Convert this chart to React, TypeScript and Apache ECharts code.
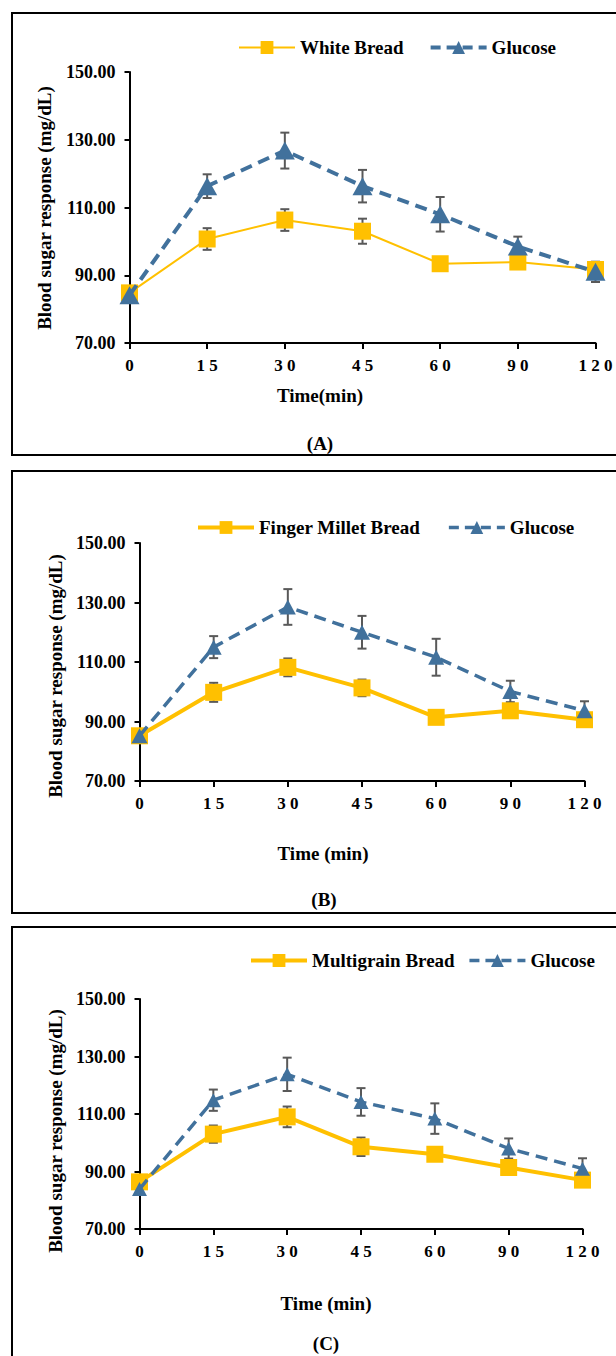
import React, { useEffect, useRef } from 'react';
import * as echarts from 'echarts';

// ---- data ----
const times = ['0', '15', '30', '45', '60', '90', '120'];

const whiteBread = [84.8, 100.7, 106.3, 103.0, 93.4, 93.9, 91.7];
const whiteBreadErr = [1.0, 3.2, 3.2, 3.7, 1.0, 1.0, 1.2];
const glucoseA = [84.1, 116.3, 126.8, 116.3, 108.0, 98.5, 91.0];
const glucoseAErr = [1.0, 3.5, 5.3, 4.8, 5.1, 2.9, 3.0];

const fingerMillet = [85.2, 99.8, 108.2, 101.3, 91.4, 93.6, 90.6];
const fingerMilletErr = [1.0, 3.2, 3.0, 2.8, 1.2, 1.2, 1.0];
const glucoseB = [85.2, 115.0, 128.5, 120.0, 111.6, 100.1, 93.6];
const glucoseBErr = [1.0, 3.7, 6.0, 5.5, 6.2, 3.6, 3.2];

const multigrain = [86.4, 103.0, 109.0, 98.6, 96.0, 91.4, 87.0];
const multigrainErr = [1.0, 3.0, 3.6, 3.2, 1.0, 1.0, 1.0];
const glucoseC = [83.9, 114.8, 123.8, 114.2, 108.4, 98.0, 91.0];
const glucoseCErr = [1.0, 3.7, 5.8, 4.8, 5.3, 3.5, 3.6];

const breadNames = ['White Bread', 'Finger Millet Bread', 'Multigrain Bread'];
const glucoseName = 'Glucose';
const yTitle = 'Blood sugar response (mg/dL)';
const xTitles = ['Time(min)', 'Time (min)', 'Time (min)'];
const panelLabels = ['(A)', '(B)', '(C)'];
const yMin = 70;
const yMax = 150;
const yStep = 20;

// ---- styles / layout ----
const FONT = "'Liberation Serif', 'Times New Roman', serif";
const YELLOW = '#FFC000';
const BLUE = '#41719C';
const ERR = '#595959';

const panels = [
  {
    bread: whiteBread, breadErr: whiteBreadErr, glu: glucoseA, gluErr: glucoseAErr,
    grid: { left: 129.5, top: 72, width: 466, height: 271 },
    legend: { left: 233, top: 33, itemGap: 25 },
    breadLineWidth: 2, gluLineWidth: 4, square: 17, tri: [20, 18],
    frame: { y: 13, h: 442 },
    yTitle: { x: 44, y: 208 }, xTitle: { x: 320, y: 395 }, label: { x: 320, y: 443 },
  },
  {
    bread: fingerMillet, breadErr: fingerMilletErr, glu: glucoseB, gluErr: glucoseBErr,
    grid: { left: 139.5, top: 543, width: 445, height: 238 },
    legend: { left: 191, top: 513, itemGap: 27 },
    breadLineWidth: 4, gluLineWidth: 3.5, square: 17, tri: [16, 15],
    frame: { y: 471, h: 442 },
    yTitle: { x: 55, y: 676 }, xTitle: { x: 323, y: 853 }, label: { x: 324, y: 899 },
  },
  {
    bread: multigrain, breadErr: multigrainErr, glu: glucoseC, gluErr: glucoseCErr,
    grid: { left: 139.5, top: 999, width: 443, height: 230 },
    legend: { left: 244, top: 946, itemGap: 13 },
    breadLineWidth: 4, gluLineWidth: 3.5, square: 17, tri: [15, 14],
    frame: { y: 927, h: 500 },
    yTitle: { x: 55, y: 1131 }, xTitle: { x: 326, y: 1303 }, label: { x: 326, y: 1343 },
  },
];

const errRender = (params: any, api: any) => {
  const x = api.value(0);
  const lo = api.coord([x, api.value(1)]);
  const hi = api.coord([x, api.value(2)]);
  const w = 4.5;
  const style = { stroke: ERR, lineWidth: 2 };
  return {
    type: 'group',
    children: [
      { type: 'line', shape: { x1: lo[0], y1: lo[1], x2: hi[0], y2: hi[1] }, style },
      { type: 'line', shape: { x1: lo[0] - w, y1: lo[1], x2: lo[0] + w, y2: lo[1] }, style },
      { type: 'line', shape: { x1: hi[0] - w, y1: hi[1], x2: hi[0] + w, y2: hi[1] }, style },
    ],
  };
};

function buildOption() {
  const grid: any[] = [];
  const xAxis: any[] = [];
  const yAxis: any[] = [];
  const legend: any[] = [];
  const series: any[] = [];
  const graphic: any[] = [];
  const titleStyle = { fontFamily: FONT, fontWeight: 'bold', fontSize: 19, fill: '#000' };

  panels.forEach((p, i) => {
    grid.push({ ...p.grid, containLabel: false });
    xAxis.push({
      type: 'category', gridIndex: i, data: times, boundaryGap: false,
      axisLine: { lineStyle: { color: '#000', width: 2 } },
      axisTick: { show: true, length: 6, lineStyle: { color: '#000', width: 2 } },
      axisLabel: {
        margin: 14, color: '#000', fontFamily: FONT, fontWeight: 'bold', fontSize: 17,
        formatter: (v: string) => v.split('').join(' '),
      },
      splitLine: { show: false },
    });
    yAxis.push({
      type: 'value', gridIndex: i, min: yMin, max: yMax, interval: yStep,
      axisLine: { show: true, lineStyle: { color: '#000', width: 2 } },
      axisTick: { show: true, length: 5, lineStyle: { color: '#000', width: 2 } },
      axisLabel: {
        margin: 14, color: '#000', fontFamily: FONT, fontWeight: 'bold', fontSize: 18,
        formatter: (v: number) => v.toFixed(2),
      },
      splitLine: { show: false },
    });
    legend.push({
      left: p.legend.left, top: p.legend.top, itemGap: p.legend.itemGap,
      itemWidth: 56, itemHeight: 16, orient: 'horizontal',
      textStyle: { fontFamily: FONT, fontWeight: 'bold', fontSize: 19, color: '#000' },
      selectedMode: false,
      data: [
        { name: breadNames[i], lineStyle: { color: YELLOW, width: p.breadLineWidth, type: 'solid' }, itemStyle: { color: YELLOW } },
        { name: glucoseName, lineStyle: { color: BLUE, width: p.gluLineWidth, type: [10, 6] }, itemStyle: { color: BLUE } },
      ],
    });
    series.push({
      type: 'custom', name: 'err-bread-' + i, xAxisIndex: i, yAxisIndex: i, z: 1,
      renderItem: errRender, encode: { x: 0, y: [1, 2] },
      data: p.bread.map((v, k) => [k, v - p.breadErr[k], v + p.breadErr[k]]),
    });
    series.push({
      type: 'custom', name: 'err-glu-' + i, xAxisIndex: i, yAxisIndex: i, z: 1,
      renderItem: errRender, encode: { x: 0, y: [1, 2] },
      data: p.glu.map((v, k) => [k, v - p.gluErr[k], v + p.gluErr[k]]),
    });
    series.push({
      type: 'line', name: breadNames[i], xAxisIndex: i, yAxisIndex: i, z: 2,
      data: p.bread, symbol: 'rect', symbolSize: p.square,
      lineStyle: { color: YELLOW, width: p.breadLineWidth },
      itemStyle: { color: YELLOW },
    });
    series.push({
      type: 'line', name: glucoseName, xAxisIndex: i, yAxisIndex: i, z: 3,
      data: p.glu, symbol: 'triangle', symbolSize: p.tri,
      lineStyle: { color: BLUE, width: p.gluLineWidth, type: [12, 7] },
      itemStyle: { color: BLUE },
    });
    graphic.push({
      type: 'rect', shape: { x: 12, y: p.frame.y, width: 620, height: p.frame.h },
      style: { fill: 'none', stroke: '#000', lineWidth: 2 }, z: 0,
    });
    graphic.push({
      type: 'text', x: p.yTitle.x, y: p.yTitle.y, rotation: Math.PI / 2,
      style: { ...titleStyle, text: yTitle, align: 'center', verticalAlign: 'middle' },
    });
    graphic.push({
      type: 'text', x: p.xTitle.x, y: p.xTitle.y,
      style: { ...titleStyle, text: xTitles[i], align: 'center', verticalAlign: 'middle' },
    });
    graphic.push({
      type: 'text', x: p.label.x, y: p.label.y,
      style: { ...titleStyle, text: panelLabels[i], align: 'center', verticalAlign: 'middle' },
    });
  });

  return {
    animation: false,
    backgroundColor: '#fff',
    grid, xAxis, yAxis, legend, series, graphic,
  };
}

export default function App() {
  const ref = useRef<HTMLDivElement>(null);
  useEffect(() => {
    if (!ref.current) return;
    const chart = echarts.init(ref.current, undefined, { renderer: 'svg' });
    chart.setOption(buildOption() as any);
    return () => chart.dispose();
  }, []);
  return (
    <div
      ref={ref}
      style={{ position: 'absolute', left: 0, top: 0, width: 616, height: 1356, background: '#fff' }}
    />
  );
}
